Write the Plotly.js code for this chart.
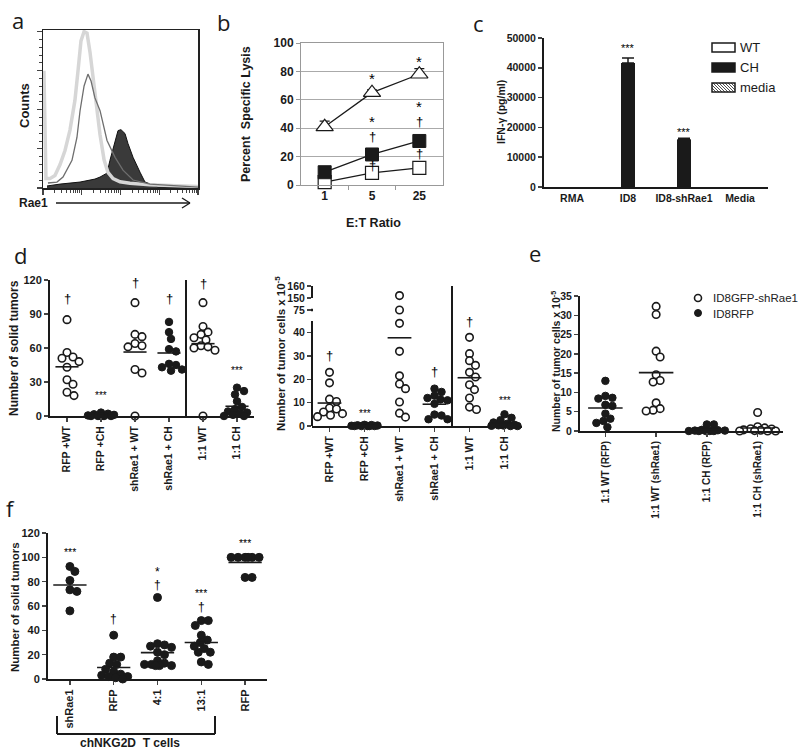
<!DOCTYPE html>
<html><head><meta charset="utf-8">
<script src="https://cdn.plot.ly/plotly-3.0.1.min.js"></script>
<style>html,body{margin:0;padding:0;background:#fff}#chart{width:800px;height:755px}</style>
</head><body><div id="chart"></div>
<script>
// ---------- DATA ----------
// panel a: flow histograms (channel 0-100, % of max counts)
const aLightX = [0.6,1.9,4.5,7.7,11,14.2,17.4,20.6,22.6,24.5,26.5,28.4,30.3,32.3,34.2,36.8,39.4,41.9,45.2,49.7,56.1,69,100];
const aLightY = [75,6,6,8,15,24,37,56,75,94,100,99,87,71,53,34,18,10,6,4,3,2,1];
const aThinX = [3.2,9,12.9,14.2,18.7,21.9,23.9,26.5,29,31,33.5,36.8,39.4,41.3,46.5,51.6,58.1,69,100];
const aThinY = [3.2,3.8,7,9.5,17.7,32.3,49.4,65.2,72.8,68.4,57.6,49.4,38,30.4,19.6,11.4,5.1,2.5,0.6];
const aFillX = [2.6,11,23.9,33.5,36.8,41.3,43.2,46.5,48.4,50.3,52.9,54.8,58.1,62.6,65.8,71,74.2,100];
const aFillY = [1.3,2.5,3.8,5.7,7,9.5,17.7,30.4,36.7,37.3,34.8,28.5,19.6,10.1,3.8,1.9,0.6,0.3];

// panel b: percent specific lysis
const bRatios = ['1','5','25'];
const bTriangle = [41,65,78];
const bTriangleErr = [4,2,4];
const bFilledSq = [9,21.5,31];
const bOpenSq = [2,8.5,12];

// panel c: IFN-gamma
const cCats = ['RMA','ID8','ID8-shRae1','Media'];
const cCH = [0,41600,16000,0];
const cCHErr = [NaN,1700,400,NaN];

// panel d (left): number of solid tumors
const dCats = ['RFP +WT','RFP +CH','shRae1 + WT','shRae1 + CH','1:1 WT','1:1 CH'];
const dOpen = [true,false,true,false,true,false];
const dTumors = [
  [85,56,52,51,48,43,32,28,21,18],
  [3,2,1.5,1,0.5,0,0,0,0,0],
  [100,72,70,64,62,61,41,38,0],
  [83,74,68,59,57,46,45,43,41,40],
  [100,79,74,72,69,67,62,61,60,58,0],
  [25,22,19,13,8,6,4,3,2,1,0,0]
];
const dTumorsStars = ['†','***','†','†','†','***'];
const dTumorsStarY = [104,18,118,104,117,40];

// panel d (right): number of tumor cells x 10^-5
const dCells = [
  [23,18.5,11.5,10.5,7.7,7.3,6,5.3,4.6,4],
  [0.5,0.4,0.3,0.2,0.1,0,0,0,0,0],
  [152,75,44,32,21.5,18,16,10.3,5.5,3.8],
  [16,14.6,13,12,11.4,11,9.5,4.9,4.5,2.9,2.9],
  [38,31,28,26,23,21,17.7,15.6,12,8.1,7.1],
  [5,3.5,2.5,1.5,1,0.5,0.3,0.2,0.1,0,0]
];
const dCellsStars = ['†','***','†','†','†','***'];
const dCellsStarY = [30.3,5.3,165,23.4,44.9,11];
const dCellsTickVals = [0,10,20,30,40,75,150,160];

// panel e
const eCats = ['1:1 WT (RFP)','1:1 WT (shRae1)','1:1 CH (RFP)','1:1 CH (shRae1)'];
const eOpen = [false,true,false,true];
const eVals = [
  [13,9.1,8.6,8.4,6.8,6.5,4.5,3.2,2.6,2.1,1],
  [32.3,30.2,20.7,19.2,14.6,13.1,12.7,7.3,5.8,5.4,5.2],
  [1.7,1.7,0.3,0.2,0.1,0.1,0,0,0,0,0],
  [4.8,1.1,0.8,0.6,0.5,0.3,0.2,0.1,0,0,0]
];

// panel f
const fCats = ['shRae1','RFP','4:1','13:1','RFP'];
const fVals = [
  [92.5,88.4,81,73.3,72,56],
  [36,18,18,13,12,8,6,4,3,2,2,1,0],
  [67,29,28,27,26,22,20,15,13,12,12,11,11,11],
  [48,48,44,36,32,30,27,25,22,22,14,12],
  [100,100,100,100,100,100,83.5,83.5]
];
const fStars = [['***'],['†'],['†','*'],['†','***'],['***']];
const fStarY = [[104],[49],[77,88],[59,70.5],[112]];

// ---------- HELPERS ----------
const W = 800, H = 755;
const FONT = 'Liberation Sans, Arial, sans-serif';
const INK = '#1a1a1a';
const X = px => px / W;
const Y = py => 1 - py / H;
const dom = (a, b) => [X(a), X(b)];
const domY = (top, bot) => [Y(bot), Y(top)];
const mean = a => a.reduce((s, v) => s + v, 0) / a.length;
function breakY(v){ if (v <= 45) return v; if (v <= 100) return 49.7 + (v - 75) * 0.1; return 54.86 + (v - 150) * 0.514; }

function swarm(vals, pxU, pxCat, diam, maxW) {
  const ys = vals.map(v => v * pxU);
  const order = ys.map((_, i) => i).sort((a, b) => ys[b] - ys[a]);
  const placed = []; const offs = new Array(vals.length).fill(0);
  const cands = [0]; for (let s = 1; s <= maxW; s++) { cands.push(s, -s); }
  order.forEach(i => {
    const y = ys[i]; let best = 0, bestD = -1;
    for (const c of cands) {
      let md = Infinity;
      for (const p of placed) { const d = Math.hypot(p.x - c, p.y - y); if (d < md) md = d; }
      if (md >= diam) { best = c; bestD = md; break; }
      if (md > bestD) { bestD = md; best = c; }
    }
    placed.push({x: best, y}); offs[i] = best / pxCat;
  });
  return offs;
}
function mk(open, size) {
  return open ? {symbol:'circle', size:size, color:'white', line:{color:INK, width:1.6}}
              : {symbol:'circle', size:size, color:INK, line:{color:INK, width:1}};
}

const traces = [], shapes = [], annotations = [];
function txt(text, px, py, o) {
  o = o || {};
  annotations.push(Object.assign({text, x:X(px), y:Y(py), xref:'paper', yref:'paper', showarrow:false,
    xanchor:'center', yanchor:'middle', font:{family:FONT, size:12, color:INK}}, o));
}
function pline(x0, y0, x1, y1, w, c) {
  shapes.push({type:'line', xref:'paper', yref:'paper', x0:X(x0), y0:Y(y0), x1:X(x1), y1:Y(y1), line:{color:c || INK, width:w || 1.5}});
}
function star(xa, ya, x, y, s, size) {
  annotations.push({x:x, y:y, xref:xa, yref:ya, text:s, showarrow:false,
    font:{family:FONT, size:size, color:'#000'}});
}

// scatter-dot panels
function dotPanel(groups, openFlags, xa, ya, pxU, pxCat, diam, maxW, hw, size, mapFn) {
  groups.forEach((vals, i) => {
    const disp = vals.map(v => mapFn ? mapFn(v) : v);
    const offs = swarm(disp, pxU, pxCat, diam, maxW);
    traces.push({type:'scatter', mode:'markers', x: offs.map(o => i + o), y: disp, xaxis: xa, yaxis: ya,
      marker: mk(openFlags[i], size), cliponaxis:false, hoverinfo:'skip'});
    const m = mapFn ? mapFn(mean(vals)) : mean(vals);
    shapes.push({type:'line', xref:xa, yref:ya, x0:i - hw, x1:i + hw, y0:m, y1:m, line:{color:INK, width:1.6}});
  });
}

// ---------- PANEL a ----------
traces.push({type:'scatter', mode:'lines', x:aFillX, y:aFillY, xaxis:'x', yaxis:'y', fill:'tozeroy', fillcolor:'#3a3a3a', line:{color:'#111', width:1}});
traces.push({type:'scatter', mode:'lines', x:aLightX, y:aLightY, xaxis:'x', yaxis:'y', line:{color:'#d6d6d6', width:3.5}});
traces.push({type:'scatter', mode:'lines', x:aThinX, y:aThinY, xaxis:'x', yaxis:'y', line:{color:'#6e6e6e', width:1.3}});
const logMinor = [];
for (let d = 0; d < 4; d++) for (let k = 2; k <= 9; k++) logMinor.push(25 * (d + Math.log10(k)));

// ---------- PANEL b ----------
const bx = [0,1,2];
traces.push({type:'scatter', mode:'lines+markers', x:bx, y:bOpenSq, xaxis:'x2', yaxis:'y2', line:{color:INK, width:1.3},
  marker:{symbol:'square', size:13, color:'white', line:{color:INK, width:1.2}}, cliponaxis:false});
traces.push({type:'scatter', mode:'lines+markers', x:bx, y:bFilledSq, xaxis:'x2', yaxis:'y2', line:{color:INK, width:1.3},
  marker:{symbol:'square', size:13, color:INK, line:{color:INK, width:1}}, cliponaxis:false});
traces.push({type:'scatter', mode:'lines+markers', x:bx, y:bTriangle, xaxis:'x2', yaxis:'y2', line:{color:INK, width:1.3},
  marker:{symbol:'triangle-up', size:15, color:'white', line:{color:INK, width:1.2}}, cliponaxis:false,
  error_y:{type:'data', array:bTriangleErr, arrayminus:[0,0,0], color:INK, thickness:1.2, width:5}});
const bStars = [[1,75,'*'],[2,87,'*'],[1,34,'†'],[1,44.5,'*'],[2,45,'†'],[2,55,'*'],[1,14,'†'],[2,22.5,'†']];
bStars.forEach(s => star('x2', 'y2', s[0], s[1], s[2], s[2] === '*' ? 15 : 13));

// ---------- PANEL c ----------
traces.push({type:'bar', x:[0,1,2,3], y:cCH, width:0.25, xaxis:'x3', yaxis:'y3', marker:{color:INK},
  error_y:{type:'data', array:cCHErr, arrayminus:[NaN,0,0,NaN], color:INK, thickness:1.5, width:6}});
[[1,46600],[2,18450]].forEach(s => star('x3', 'y3', s[0], s[1], '***', 11));
// legend
shapes.push({type:'rect', xref:'paper', yref:'paper', x0:X(712), x1:X(735), y0:Y(52), y1:Y(43), fillcolor:'white', line:{color:INK, width:1.5}});
shapes.push({type:'rect', xref:'paper', yref:'paper', x0:X(712), x1:X(735), y0:Y(72), y1:Y(63), fillcolor:INK, line:{color:INK, width:1.5}});
shapes.push({type:'rect', xref:'paper', yref:'paper', x0:X(712), x1:X(735), y0:Y(92), y1:Y(83), fillcolor:'white', line:{color:INK, width:1.5}});
for (let s = -8; s < 23; s += 3) {
  let x0 = 712 + s, y0 = 83, x1 = x0 + 9, y1 = 92;
  if (x0 < 712) { y0 += 712 - x0; x0 = 712; }
  if (x1 > 735) { y1 -= x1 - 735; x1 = 735; }
  if (x1 > x0) pline(x0, y0, x1, y1, 0.8, '#222');
}
txt('WT', 738, 47.5, {xanchor:'left', font:{family:FONT, size:13, color:INK}});
txt('CH', 738, 67.5, {xanchor:'left', font:{family:FONT, size:13, color:INK}});
txt('media', 738, 87.5, {xanchor:'left', font:{family:FONT, size:13, color:INK}});

// ---------- PANEL d ----------
dotPanel(dTumors, dOpen, 'x4', 'y4', 136/120, 34, 7, 13, 0.34, 7.5);
dTumorsStars.forEach((s, i) => star('x4', 'y4', i, dTumorsStarY[i], s, s === '***' ? 10 : 13));
shapes.push({type:'line', xref:'x4', yref:'y4', x0:3.5, x1:3.5, y0:0, y1:120, line:{color:INK, width:2}});

dotPanel(dCells, dOpen, 'x5', 'y5', 140/60, 35, 7, 13, 0.34, 7.5, breakY);
dCellsStars.forEach((s, i) => star('x5', 'y5', i, breakY(dCellsStarY[i]), s, s === '***' ? 10 : 13));
shapes.push({type:'line', xref:'x5', yref:'y5', x0:3.5, x1:3.5, y0:0, y1:61.7, line:{color:INK, width:2}});
[[0,45],[49.2,50.2],[54.86,60]].forEach(seg => shapes.push({type:'line', xref:'x5 domain', yref:'y5', x0:0, x1:0, y0:seg[0], y1:seg[1], line:{color:INK, width:2}}));

// ---------- PANEL e ----------
dotPanel(eVals, eOpen, 'x6', 'y6', 135/35, 50.75, 7, 18, 0.34, 7.5);
shapes.push({type:'circle', xref:'paper', yref:'paper', x0:X(694.5), x1:X(701.5), y0:Y(301.5), y1:Y(294.5), fillcolor:'white', line:{color:INK, width:1.6}});
shapes.push({type:'circle', xref:'paper', yref:'paper', x0:X(694.5), x1:X(701.5), y0:Y(316.5), y1:Y(309.5), fillcolor:INK, line:{color:INK, width:1}});
txt('ID8GFP-shRae1', 711, 298, {xanchor:'left', font:{family:FONT, size:11.5, color:'#222'}});
txt('ID8RFP', 711, 313.5, {xanchor:'left', font:{family:FONT, size:11.5, color:'#222'}});

// ---------- PANEL f ----------
dotPanel(fVals, [false,false,false,false,false], 'x7', 'y7', 146/120, 43.8, 7, 14, 0.38, 8);
fStars.forEach((arr, i) => arr.forEach((s, j) => star('x7', 'y7', i, fStarY[i][j], s, s === '***' ? 10.5 : 12)));
pline(57, 716, 57, 734, 2); pline(57, 734, 215, 734, 2); pline(215, 734, 215, 716, 2);
txt('chNKG2D  T cells', 130, 743, {font:{family:FONT, size:12, color:INK, weight:'bold'}});

// ---------- TEXT LABELS ----------
const letter = {family:'Open Sans, Liberation Sans, sans-serif', size:22, color:INK};
txt('a', 18, 20, {font:letter}); txt('b', 223, 22, {font:letter}); txt('c', 478, 23, {font:letter});
txt('d', 20, 255, {font:letter}); txt('e', 535, 253, {font:letter}); txt('f', 10, 508, {font:letter});
txt('Counts', 25, 106, {textangle:-90, font:{family:FONT, size:13, color:INK, weight:'bold'}});
txt('Rae1', 33, 203, {font:{family:FONT, size:12, color:INK, weight:'bold'}});
pline(56, 203, 190, 203, 1.3); pline(182, 198, 190, 203, 1.3); pline(182, 208, 190, 203, 1.3);
txt('Percent  Specific Lysis', 246, 114, {textangle:-90, font:{family:FONT, size:12.5, color:INK, weight:'bold'}});
txt('E:T Ratio', 373, 223, {font:{family:FONT, size:12.5, color:INK, weight:'bold'}});
txt('IFN-γ (pg/ml)', 501, 112, {textangle:-90, font:{family:FONT, size:10.5, color:INK, weight:'bold'}});
txt('Number of solid tumors', 14, 348, {textangle:-90, font:{family:FONT, size:12, color:INK, weight:'bold'}});
txt('Number of tumor cells x 10<sup>-5</sup>', 280, 354, {textangle:-90, font:{family:FONT, size:11.5, color:INK, weight:'bold'}});
txt('Number of tumor cells x 10<sup>-5</sup>', 555, 362, {textangle:-90, font:{family:FONT, size:10.5, color:INK, weight:'bold'}});
txt('Number of solid tumors', 15, 607, {textangle:-90, font:{family:FONT, size:11.5, color:INK, weight:'bold'}});

// ---------- AXES ----------
const tf = (size, bold) => ({family:FONT, size:size, color:INK, weight: bold ? 'bold' : 'normal'});
function catAxis(d, n, texts, size, extra) {
  return Object.assign({domain:d, range:[-0.5, n - 0.5], tickmode:'array', tickvals:texts.map((_, i) => i), ticktext:texts,
    tickangle:-90, ticks:'outside', ticklen:4, tickwidth:1.5, showline:true, linewidth:2, linecolor:INK,
    showgrid:false, zeroline:false, tickfont:tf(size, true), fixedrange:true}, extra || {});
}
function numAxis(d, range, dtick, size, extra) {
  return Object.assign({domain:d, range:range, dtick:dtick, ticks:'outside', ticklen:4, tickwidth:1.5, showline:true,
    linewidth:2, linecolor:INK, showgrid:false, zeroline:false, tickfont:tf(size, true), tickformat:'d',
    exponentformat:'none', fixedrange:true}, extra || {});
}

const layout = {
  width:W, height:H, margin:{l:0, r:0, t:0, b:0}, paper_bgcolor:'white', plot_bgcolor:'rgba(0,0,0,0)',
  showlegend:false, font:{family:FONT}, shapes:shapes, annotations:annotations,
  xaxis:{domain:dom(43,198), range:[0,100], anchor:'y', showline:true, mirror:true, linecolor:'#222', linewidth:1.5,
    ticks:'outside', tickmode:'array', tickvals:[0,25,50,75,100], ticklen:5, tickwidth:1.2, showticklabels:false,
    showgrid:false, zeroline:false, minor:{tickmode:'array', tickvals:logMinor, ticks:'outside', ticklen:3, tickwidth:1}},
  yaxis:{domain:domY(30,188), range:[0,101], anchor:'x', showline:true, mirror:true, linecolor:'#222', linewidth:1.5,
    ticks:'outside', dtick:25, ticklen:5, tickwidth:1.2, showticklabels:false, showgrid:false, zeroline:false,
    minor:{dtick:5, ticks:'outside', ticklen:3, tickwidth:1}},
  xaxis2:{domain:dom(301,443), range:[-0.5,2.5], anchor:'y2', tickmode:'array', tickvals:bx, ticktext:bRatios, ticks:'',
    showline:true, mirror:true, linecolor:'#999', linewidth:1, showgrid:false, zeroline:false, tickfont:tf(12, true),
    minor:{tickmode:'array', tickvals:[0.5,1.5], ticks:'outside', ticklen:4, tickcolor:'#999'}},
  yaxis2:{domain:domY(43,185), range:[0,100], anchor:'x2', dtick:20, ticks:'outside', ticklen:4, tickcolor:'#999',
    showline:true, mirror:true, linecolor:'#999', linewidth:1, showgrid:true, gridcolor:'#aaa', gridwidth:1, zeroline:false,
    tickfont:tf(12, true)},
  xaxis3:{domain:dom(544,768), range:[-0.5,3.5], anchor:'y3', tickmode:'array', tickvals:[0,1,2,3], ticktext:cCats,
    ticks:'', showline:true, linewidth:2, linecolor:INK, showgrid:false, zeroline:false, tickfont:tf(10.5, true)},
  yaxis3:numAxis(domY(38,187), [0,50000], 10000, 10.5, {anchor:'x3'}),
  xaxis4:catAxis(dom(50,254), 6, dCats, 10.5, {anchor:'y4'}),
  yaxis4:numAxis(domY(280,416), [0,120], 30, 11, {anchor:'x4'}),
  xaxis5:catAxis(dom(312,522), 6, dCats, 10.5, {anchor:'y5'}),
  yaxis5:numAxis(domY(286,426), [0,60], null, 10.5, {anchor:'x5', showline:false, tickmode:'array',
    tickvals:dCellsTickVals.map(breakY), ticktext:dCellsTickVals.map(String)}),
  xaxis6:catAxis(dom(580,783), 4, eCats, 10, {anchor:'y6'}),
  yaxis6:numAxis(domY(296,431), [0,35], 5, 10.5, {anchor:'x6'}),
  xaxis7:catAxis(dom(48,267), 5, fCats, 11, {anchor:'y7'}),
  yaxis7:numAxis(domY(533,679), [0,120], 20, 11, {anchor:'x7'})
};
Plotly.newPlot('chart', traces, layout, {staticPlot:true, displayModeBar:false});
</script>
</body></html>
